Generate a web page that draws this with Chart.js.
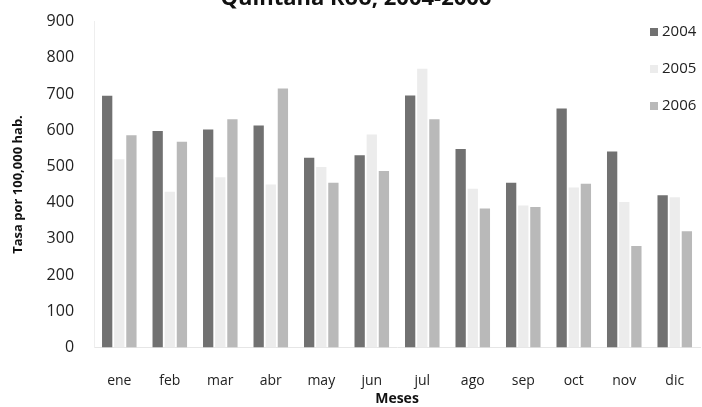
<!DOCTYPE html>
<html>
<head>
<meta charset="utf-8">
<script src="https://cdn.jsdelivr.net/npm/chart.js@4.4.1/dist/chart.umd.min.js"></script>
<style>
  html, body { margin: 0; padding: 0; background: #fff; }
  #wrap { width: 702px; height: 407px; }
</style>
</head>
<body>
<div id="wrap"><canvas id="chart" width="702" height="407"></canvas></div>
<script>
const months = ['ene', 'feb', 'mar', 'abr', 'may', 'jun', 'jul', 'ago', 'sep', 'oct', 'nov', 'dic'];
const years = ['2004', '2005', '2006'];
const rate2004 = [695, 598, 602, 613, 524, 531, 696, 548, 455, 660, 541, 420];
const rate2005 = [520, 430, 470, 450, 498, 588, 770, 438, 392, 442, 402, 415];
const rate2006 = [586, 568, 630, 715, 455, 487, 630, 384, 388, 452, 280, 321];
const yTicks = [0, 100, 200, 300, 400, 500, 600, 700, 800, 900];
const titleText = 'Quintana Roo, 2004-2006';

const colors = ['#717171', '#ececec', '#b9b9b9'];

// title is cut at the top of the picture, legend sits inside the plot
const extras = {
    id: 'extras',
    afterDraw(chart) {
        const ctx = chart.ctx;
        ctx.save();
        ctx.fillStyle = '#111';
        ctx.font = 'bold 22px "Open Sans", sans-serif';
        ctx.textAlign = 'center';
        ctx.textBaseline = 'alphabetic';
        ctx.fillText(titleText, 356, 5);

        ctx.font = '15px "Open Sans", sans-serif';
        ctx.textAlign = 'left';
        ctx.textBaseline = 'middle';
        chart.data.datasets.forEach((ds, i) => {
            const y = 32 + i * 37;
            ctx.fillStyle = ds.backgroundColor;
            ctx.fillRect(650, y - 4, 8, 8);
            ctx.fillStyle = '#222';
            ctx.fillText(ds.label, 662, y);
        });
        ctx.restore();
    }
};

new Chart(document.getElementById('chart'), {
    type: 'bar',
    data: {
        labels: months,
        datasets: [
            { label: years[0], data: rate2004, backgroundColor: colors[0] },
            { label: years[1], data: rate2005, backgroundColor: colors[1] },
            { label: years[2], data: rate2006, backgroundColor: colors[2] }
        ]
    },
    options: {
        responsive: false,
        animation: false,
        layout: { padding: { top: 0, right: 2, left: 10, bottom: 0 } },
        datasets: {
            bar: { categoryPercentage: 0.72, barPercentage: 0.85 }
        },
        plugins: {
            legend: { display: false },
            tooltip: { enabled: false }
        },
        scales: {
            x: {
                grid: { display: false },
                border: { color: '#e6e6e6' },
                ticks: {
                    color: '#222',
                    font: { family: 'Open Sans', size: 14 },
                    padding: 17,
                    maxRotation: 0
                },
                title: {
                    display: true,
                    text: 'Meses',
                    color: '#111',
                    font: { family: 'Open Sans', size: 14, weight: 'bold' },
                    padding: { top: -16, bottom: 0 }
                }
            },
            y: {
                min: 0,
                max: 900,
                afterBuildTicks(axis) {
                    axis.ticks = yTicks.map(v => ({ value: v }));
                },
                grid: { display: false },
                border: { color: '#eeeeee' },
                ticks: {
                    color: '#222',
                    font: { family: 'Open Sans', size: 16 },
                    padding: 12
                },
                title: {
                    display: true,
                    text: 'Tasa por 100,000 hab.',
                    color: '#111',
                    font: { family: 'Open Sans', size: 13, weight: 'bold' },
                    padding: { top: 0, bottom: 9 }
                }
            }
        }
    },
    plugins: [extras]
});
</script>
</body>
</html>
